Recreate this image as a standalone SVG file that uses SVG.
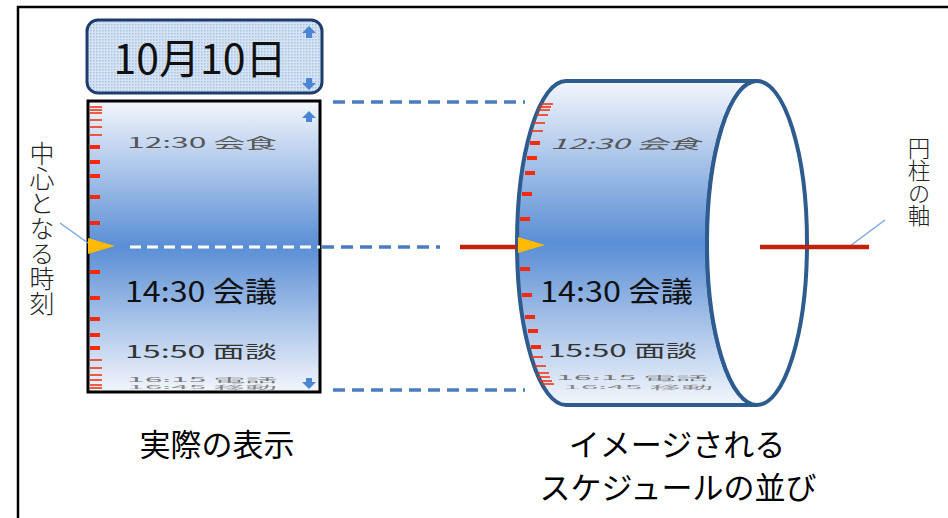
<svg xmlns="http://www.w3.org/2000/svg" width="948" height="518" viewBox="0 0 948 518">
<style>
.jp{font-family:"Noto Sans CJK JP","Noto Sans",sans-serif}
.lbl{font-family:"Noto Sans CJK JP",sans-serif;font-size:31px;fill:#000}
.vlbl{font-family:"Noto Sans CJK JP",sans-serif;fill:#222;writing-mode:vertical-rl;font-weight:300}
.tick{fill:#f42a0a}
.thin{stroke:#f42a0a;stroke-width:1.4}
.dash{stroke:#4a7cc0;stroke-width:3.5;stroke-dasharray:12 7;fill:none}
.wdash{stroke:#fff;stroke-width:3;stroke-dasharray:11 6;fill:none}
.arr{fill:#4a86d4}
.lead{stroke:#7aa7e0;stroke-width:1.5;fill:none}
.axis{stroke:#c0210c;stroke-width:4.5}
.tri{fill:#ffb900}
</style>
<defs>
<linearGradient id="g" x1="0" y1="0" x2="0" y2="1">
<stop offset="0" stop-color="#f3f6fc"/>
<stop offset="0.5" stop-color="#5a8ed5"/>
<stop offset="1" stop-color="#f3f6fc"/>
</linearGradient>
<pattern id="dots" width="3" height="3" patternUnits="userSpaceOnUse">
<rect width="3" height="3" fill="#d6e3f3"/>
<rect width="1.5" height="1.5" fill="#a9c2e4"/>
</pattern>
</defs>
<g id="frame" fill="none" stroke="#000" stroke-width="2.5">
<path d="M18 518 V7 H948"/>
</g>
<g id="date">
<rect x="87" y="20" width="235" height="73" rx="11" fill="url(#dots)" stroke="#1d3c6b" stroke-width="3"/>
<text class="jp" x="200" y="74" font-size="41" text-anchor="middle" fill="#111">10月10日</text>
<path class="arr" d="M309 26 L316 33 L312 33 L312 38 L306 38 L306 33 L302 33 Z"/>
<path class="arr" d="M309 90 L316 83 L312 83 L312 78 L306 78 L306 83 L302 83 Z"/>
</g>
<g id="display">
<rect x="88" y="101" width="232" height="291" fill="url(#g)" stroke="#000" stroke-width="3"/>
<g class="thin">
<path d="M90 107H102M90 110H102M90 113H102M90 120H102M90 127H102M90 135H102M90 360H102M90 368H102M90 375H102M90 380H102M90 385H102M90 388H102"/>
</g>
<g class="tick">
<rect x="90" y="145" width="10" height="4"/><rect x="90" y="160" width="10" height="4"/><rect x="90" y="174" width="10" height="4"/><rect x="90" y="195" width="10" height="4"/><rect x="90" y="221" width="10" height="4"/>
<rect x="90" y="270" width="10" height="4"/><rect x="90" y="296" width="10" height="4"/><rect x="90" y="317" width="10" height="4"/><rect x="90" y="333" width="10" height="4"/><rect x="90" y="346" width="10" height="4"/>
</g>
<text class="jp" transform="translate(127 148) scale(1 0.5)" font-size="28" fill="#555" textLength="150" lengthAdjust="spacingAndGlyphs">12:30 会食</text>
<text class="jp" x="125" y="302" font-size="28" fill="#111" textLength="152" lengthAdjust="spacingAndGlyphs">14:30 会議</text>
<text class="jp" transform="translate(125 358) scale(1 0.62)" font-size="28" fill="#333" textLength="152" lengthAdjust="spacingAndGlyphs">15:50 面談</text>
<text class="jp" transform="translate(127 382) scale(1 0.2)" font-size="28" fill="#777" textLength="150" lengthAdjust="spacingAndGlyphs">16:15 電話</text>
<text class="jp" transform="translate(127 389) scale(1 0.18)" font-size="28" fill="#888" textLength="150" lengthAdjust="spacingAndGlyphs">16:45 移動</text>
<path class="arr" d="M309 111 L316 118 L312 118 L312 122 L306 122 L306 118 L302 118 Z"/>
<path class="arr" d="M309 389 L316 382 L312 382 L312 378 L306 378 L306 382 L302 382 Z"/>
</g>
<g id="cylinder">
<path d="M566 81 L757 81 A50 162 0 0 0 757 405 L566 405 A49 162 0 0 1 566 81 Z" fill="url(#g)" stroke="#2e5c8e" stroke-width="4"/>
<ellipse cx="757" cy="243" rx="50" ry="162" fill="#fff" stroke="#2e5c8e" stroke-width="4"/>
<g class="thin">
<path d="M541 104H553M539 107H551M538 110H550M536 115H548M533 123H545M531 131H543M531 357H543M534 366H546M537 373H549M538 377H550M540 381H552M542 384H554"/>
</g>
<g class="tick">
<rect x="530" y="141" width="10" height="4"/><rect x="527" y="156" width="10" height="4"/><rect x="525" y="171" width="10" height="4"/><rect x="522" y="192" width="10" height="4"/><rect x="520" y="217" width="10" height="4"/>
<rect x="520" y="267" width="10" height="4"/><rect x="522" y="293" width="10" height="4"/><rect x="525" y="315" width="10" height="4"/><rect x="528" y="329" width="10" height="4"/><rect x="531" y="345" width="10" height="4"/>
</g>
<text class="jp" transform="translate(550 149) scale(1 0.5) skewX(-14)" font-size="28" fill="#555" textLength="150" lengthAdjust="spacingAndGlyphs">12:30 会食</text>
<text class="jp" x="540" y="302" font-size="28" fill="#111" textLength="153" lengthAdjust="spacingAndGlyphs">14:30 会議</text>
<text class="jp" transform="translate(548 357) scale(1 0.62)" font-size="28" fill="#333" textLength="149" lengthAdjust="spacingAndGlyphs">15:50 面談</text>
<text class="jp" transform="translate(556 380) scale(1 0.2)" font-size="28" fill="#777" textLength="152" lengthAdjust="spacingAndGlyphs">16:15 電話</text>
<text class="jp" transform="translate(563 389) scale(1 0.18)" font-size="28" fill="#888" textLength="150" lengthAdjust="spacingAndGlyphs">16:45 移動</text>
</g>
<g id="connectors">
<path class="dash" d="M333 102 H525"/>
<path class="dash" d="M333 390 H525"/>
<path class="dash" d="M322 247 H440"/>
<path class="wdash" d="M130 247 H320"/>
<path class="lead" d="M60 223 L88 243"/>
<path class="lead" d="M885 220 L850 246"/>
<path class="axis" d="M460 247 H517"/>
<path class="axis" d="M760 247 H869"/>
</g>
<g id="markers">
<path class="tri" d="M88 238 L115 246 L88 254 Z"/>
<path class="tri" d="M518 237 L545 245 L518 253 Z"/>
</g>
<g id="label-center">
<text class="vlbl" x="42" y="141" font-size="25">中心となる時刻</text>
</g>
<g id="label-axis">
<text class="vlbl" x="919" y="137" font-size="22.5">円柱の軸</text>
</g>
<g id="label-actual">
<text class="lbl" x="217" y="456" text-anchor="middle">実際の表示</text>
</g>
<g id="label-image">
<text class="lbl" x="677" y="456" text-anchor="middle">イメージされる</text>
<text class="lbl" x="678" y="499" text-anchor="middle">スケジュールの並び</text>
</g>
</svg>
